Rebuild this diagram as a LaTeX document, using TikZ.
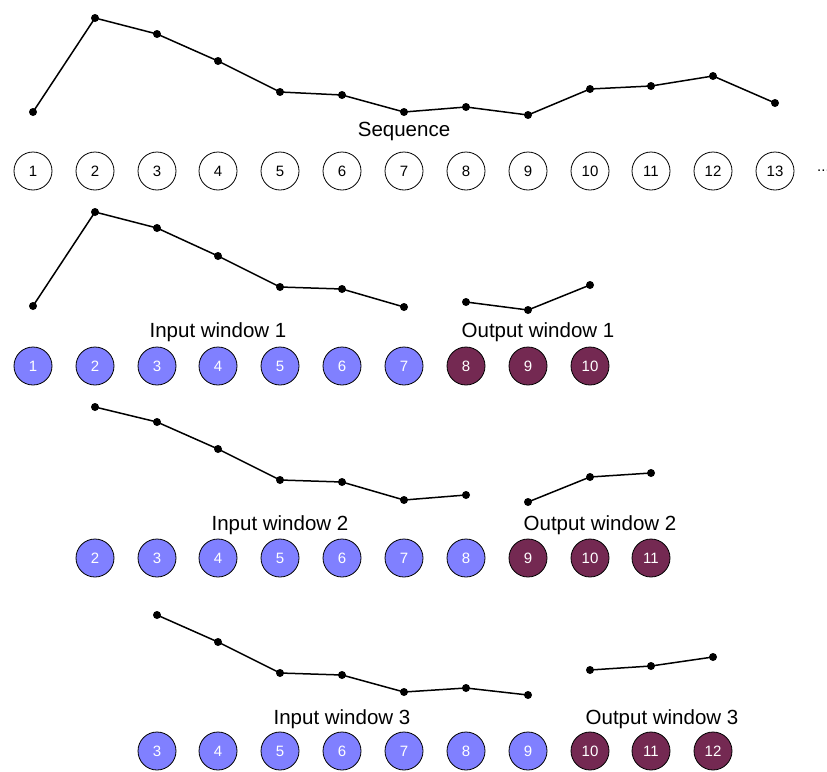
\documentclass[tikz,border=0pt]{standalone}
\usepackage{fontspec}
\setmainfont{Liberation Sans}
\definecolor{inblue}{RGB}{128,128,255}
\definecolor{outpurple}{RGB}{116,41,82}
\begin{document}
\begin{tikzpicture}[x=1pt,y=-1pt,
  seqc/.style={circle,draw=black,line width=0.8pt,minimum size=38pt,inner sep=0pt,font=\fontsize{15}{15}\selectfont},
  inc/.style={seqc,fill=inblue,text=white},
  outc/.style={seqc,fill=outpurple,text=white},
  curve/.style={line width=1.5pt,line join=round},
  pt/.style={circle,fill=black,inner sep=0pt,minimum size=8pt},
  lbl/.style={font=\fontsize{20.5}{20.5}\selectfont,inner sep=0pt}]
\useasboundingbox (0,0) rectangle (827,771);
% ---------- Row 0: sequence ----------
\foreach \n/\x in {1/33,2/95,3/157,4/218,5/280,6/342,7/404,8/466,9/528,10/590,11/651,12/713,13/775}
  \node[seqc] (s\n) at (\x,171) {\n};
\node[anchor=west,inner sep=0pt,font=\fontsize{15}{15}\selectfont] (sdots) at (817,171) {...};
\foreach \n/\x/\y in {1/33/112,2/95/18,3/157/34,4/218/61,5/280/92,6/342/95,7/404/112,8/466/107,9/528/115,10/590/89,11/651/86,12/713/76,13/775/103}
  \node[pt] (p\n) at (\x,\y) {};
\draw[curve] (p1.center)--(p2.center)--(p3.center)--(p4.center)--(p5.center)--(p6.center)--(p7.center)--(p8.center)--(p9.center)--(p10.center)--(p11.center)--(p12.center)--(p13.center);
\node[lbl] (seqlbl) at (404,131) {Sequence};
% ---------- Row 1 ----------
\foreach \n/\x in {1/33,2/95,3/157,4/218,5/280,6/342,7/404}
  \node[inc] (a\n) at (\x,366) {\n};
\foreach \n/\x in {8/466,9/528,10/590}
  \node[outc] (a\n) at (\x,366) {\n};
\foreach \n/\x/\y in {1/33/306,2/95/212,3/157/228,4/218/256,5/280/287,6/342/289,7/404/307,8/466/302,9/528/310,10/590/285}
  \node[pt] (q\n) at (\x,\y) {};
\draw[curve] (q1.center)--(q2.center)--(q3.center)--(q4.center)--(q5.center)--(q6.center)--(q7.center);
\draw[curve] (q8.center)--(q9.center)--(q10.center);
\node[lbl] (in1) at (218,332) {Input window 1};
\node[lbl] (out1) at (538,332) {Output window 1};
% ---------- Row 2 ----------
\foreach \n/\x in {2/95,3/157,4/218,5/280,6/342,7/404,8/466}
  \node[inc] (b\n) at (\x,558) {\n};
\foreach \n/\x in {9/528,10/590,11/651}
  \node[outc] (b\n) at (\x,558) {\n};
\foreach \n/\x/\y in {2/95/407,3/157/422,4/218/449,5/280/480,6/342/482,7/404/500,8/466/495,9/528/502,10/590/477,11/651/473}
  \node[pt] (r\n) at (\x,\y) {};
\draw[curve] (r2.center)--(r3.center)--(r4.center)--(r5.center)--(r6.center)--(r7.center)--(r8.center);
\draw[curve] (r9.center)--(r10.center)--(r11.center);
\node[lbl] (in2) at (280,525) {Input window 2};
\node[lbl] (out2) at (600,525) {Output window 2};
% ---------- Row 3 ----------
\foreach \n/\x in {3/157,4/218,5/280,6/342,7/404,8/466,9/528}
  \node[inc] (c\n) at (\x,751) {\n};
\foreach \n/\x in {10/590,11/651,12/713}
  \node[outc] (c\n) at (\x,751) {\n};
\foreach \n/\x/\y in {3/157/615,4/218/642,5/280/673,6/342/675,7/404/692,8/466/688,9/528/695,10/590/670,11/651/666,12/713/657}
  \node[pt] (t\n) at (\x,\y) {};
\draw[curve] (t3.center)--(t4.center)--(t5.center)--(t6.center)--(t7.center)--(t8.center)--(t9.center);
\draw[curve] (t10.center)--(t11.center)--(t12.center);
\node[lbl] (in3) at (342,719) {Input window 3};
\node[lbl] (out3) at (662,719) {Output window 3};
\end{tikzpicture}
\end{document}
